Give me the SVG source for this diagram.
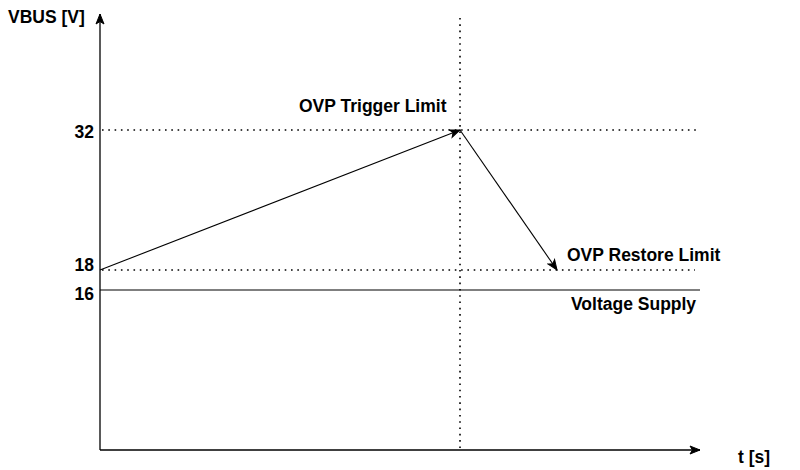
<svg xmlns="http://www.w3.org/2000/svg" width="800" height="470" viewBox="0 0 800 470">
  <defs>
    <marker id="arrow" markerUnits="userSpaceOnUse" markerWidth="12" markerHeight="10" viewBox="0 0 12 10" refX="11" refY="5" orient="auto">
      <path d="M1,1 L11,5 L1,9 L3.5,5 Z" fill="#000" stroke="#000" stroke-width="1"/>
    </marker>
  </defs>
  <style>
    .lbl { font-family: "Liberation Sans", Arial, sans-serif; font-weight: bold; font-size: 17.5px; fill: #000; }
    .num { text-anchor: end; }
    .axis { stroke: #000; stroke-width: 1.3; fill: none; }
    .dot { stroke: #000; stroke-width: 1.6; stroke-dasharray: 1.6 4.7; fill: none; }
    .solid { stroke: #000; stroke-width: 1.2; fill: none; }
    .conn { stroke: #000; stroke-width: 1.1; fill: none; }
  </style>
  <rect width="800" height="470" fill="#fff"/>

  <g id="guides">
    <line class="dot" x1="102" y1="130" x2="700" y2="130"/>
    <line class="dot" x1="102" y1="270" x2="695" y2="270"/>
    <line class="dot" x1="460" y1="18" x2="460" y2="450"/>
    <line class="solid" x1="100" y1="290" x2="700" y2="290"/>
  </g>

  <g id="axes">
    <line class="axis" x1="100" y1="450" x2="100" y2="14" marker-end="url(#arrow)"/>
    <line class="axis" x1="100" y1="450" x2="700" y2="450" marker-end="url(#arrow)"/>
  </g>

  <g id="connectors">
    <line class="conn" x1="100" y1="270" x2="460" y2="130" marker-end="url(#arrow)"/>
    <line class="conn" x1="460" y1="130" x2="557" y2="270" marker-end="url(#arrow)"/>
  </g>

  <g id="label-vbus"><text class="lbl" x="8" y="23">VBUS [V]</text></g>
  <g id="label-t"><text class="lbl" x="738" y="463">t [s]</text></g>
  <g id="label-32"><text class="lbl num" x="94" y="138">32</text></g>
  <g id="label-18"><text class="lbl num" x="94" y="271">18</text></g>
  <g id="label-16"><text class="lbl num" x="94" y="300">16</text></g>
  <g id="label-ovp-trigger"><text class="lbl" x="299" y="112">OVP Trigger Limit</text></g>
  <g id="label-ovp-restore"><text class="lbl" x="567" y="261">OVP Restore Limit</text></g>
  <g id="label-supply"><text class="lbl" x="571" y="310">Voltage Supply</text></g>
</svg>
